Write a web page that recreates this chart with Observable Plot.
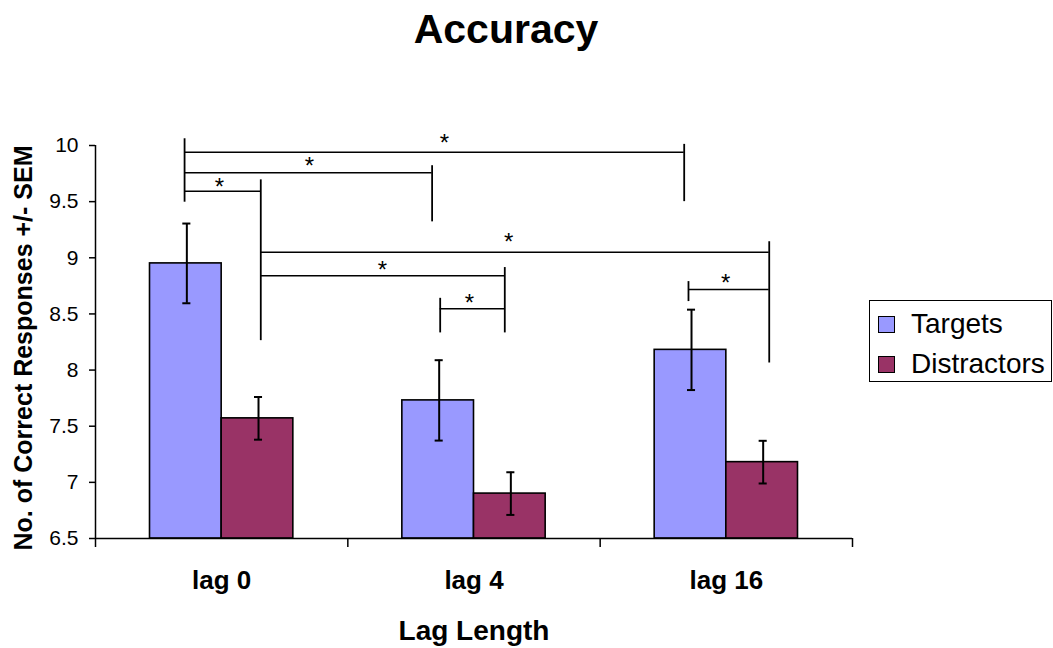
<!DOCTYPE html>
<html>
<head>
<meta charset="utf-8">
<script src="https://cdn.jsdelivr.net/npm/d3@7"></script>
<script src="https://cdn.jsdelivr.net/npm/@observablehq/plot@0.6"></script>
<style>
  body { margin: 0; background: #fff; font-family: "Liberation Sans", Arial, sans-serif; }
  #wrap { position: relative; width: 1053px; height: 648px; overflow: hidden; }
  #chart { position: absolute; left: 0; top: 0; }
  #title { position: absolute; left: 0; width: 1012px; top: 9px; text-align: center; font-weight: bold; font-size: 41px; line-height: 1; z-index: 2; }
  #legendBox { position: absolute; left: 869px; top: 300px; width: 183px; height: 82px; border: 1.5px solid #000; box-sizing: border-box; z-index: 2; }
  .sw { position: absolute; width: 17px; height: 17px; border: 1px solid #000; box-sizing: border-box; z-index: 3; }
  .lt { position: absolute; font-size: 28px; line-height: 1; z-index: 3; white-space: nowrap; }
</style>
</head>
<body>
<div id="wrap">
  <div id="title"></div>
  <div id="chart"></div>
  <div id="legendBox"></div>
  <div id="legend"></div>
</div>
<script>
// ---- data ----
const title = "Accuracy";
const categories = ["lag 0", "lag 4", "lag 16"];
const series = ["Targets", "Distractors"];
const colors = ["#9999FF", "#993366"];
const targets = [8.95, 7.73, 8.18];
const targetsSEM = [0.355, 0.358, 0.358];
const distractors = [7.57, 6.90, 7.18];
const distractorsSEM = [0.19, 0.19, 0.19];
const yTicks = [6.5, 7, 7.5, 8, 8.5, 9, 9.5, 10];
const yLabel = "No. of Correct Responses +/- SEM";
const xLabel = "Lag Length";

// significance brackets (x in category units, y in data units)
const bracketH = [
  {x1: 0.353, x2: 2.333, y: 9.94},
  {x1: 0.353, x2: 1.334, y: 9.757},
  {x1: 0.353, x2: 0.655, y: 9.593},
  {x1: 0.655, x2: 2.670, y: 9.049},
  {x1: 0.655, x2: 1.622, y: 8.841},
  {x1: 1.366, x2: 1.622, y: 8.547},
  {x1: 2.350, x2: 2.670, y: 8.717}
];
const bracketV = [
  {x: 0.353, y1: 10.06, y2: 9.495},
  {x: 2.333, y1: 10.01, y2: 9.50},
  {x: 1.334, y1: 9.82, y2: 9.32},
  {x: 0.655, y1: 9.694, y2: 8.262},
  {x: 2.670, y1: 9.143, y2: 8.063},
  {x: 1.622, y1: 8.913, y2: 8.331},
  {x: 1.366, y1: 8.639, y2: 8.331},
  {x: 2.350, y1: 8.788, y2: 8.610}
];
const stars = [
  {x: 1.383, y: 10.071},
  {x: 0.848, y: 9.866},
  {x: 0.491, y: 9.679},
  {x: 1.637, y: 9.189},
  {x: 1.137, y: 8.94},
  {x: 1.482, y: 8.645},
  {x: 2.497, y: 8.824}
];

// ---- build table ----
const values = [targets, distractors];
const sems = [targetsSEM, distractorsSEM];
const rows = [];
categories.forEach((c, i) => {
  series.forEach((s, j) => {
    const x1 = i + (j === 0 ? 0.216 : 0.5);
    const x2 = i + (j === 0 ? 0.5 : 0.784);
    rows.push({cat: c, series: s, value: values[j][i], sem: sems[j][i], x1, x2, xc: (x1 + x2) / 2 + 0.004, color: colors[j]});
  });
});
const caps = rows.flatMap(d => [{xc: d.xc, y: d.value - d.sem}, {xc: d.xc, y: d.value + d.sem}]);

document.getElementById("title").textContent = title;

const chart = Plot.plot({
  width: 1053,
  height: 648,
  marginLeft: 95,
  marginRight: 201,
  marginTop: 145,
  marginBottom: 110,
  style: {fontFamily: "'Liberation Sans', Arial, sans-serif", fontSize: "21px", background: "transparent", overflow: "visible"},
  x: {type: "linear", domain: [0, 3]},
  y: {domain: [6.5, 10]},
  marks: [
    Plot.rect(rows, {x1: "x1", x2: "x2", y1: 6.5, y2: "value", fill: "color", stroke: "black", strokeWidth: 1.6}),
    Plot.ruleX(rows, {x: "xc", y1: d => d.value - d.sem, y2: d => d.value + d.sem, stroke: "black", strokeWidth: 2}),
    Plot.ruleY(caps, {y: "y", x1: d => d.xc - 0.016, x2: d => d.xc + 0.016, stroke: "black", strokeWidth: 2}),
    Plot.ruleY(bracketH, {x1: "x1", x2: "x2", y: "y", stroke: "black", strokeWidth: 1.5}),
    Plot.ruleX(bracketV, {x: "x", y1: "y1", y2: "y2", stroke: "black", strokeWidth: 1.8}),
    Plot.text(stars, {x: "x", y: "y", text: () => "*", fontSize: 24, dy: 6}),
    Plot.axisY({ticks: yTicks, tickSize: 6, tickPadding: 11, fontSize: 21, label: null, strokeWidth: 1.5, tickFormat: d => String(d)}),
    Plot.axisX({ticks: [0, 1, 2, 3], tickSize: 9, tickFormat: () => "", label: null, strokeWidth: 1.5}),
    Plot.axisX({ticks: [0.5, 1.5, 2.5], tickSize: 0, tickPadding: 32, tickFormat: d => categories[Math.floor(d)], fontSize: 26, fontWeight: "bold", label: null}),
    Plot.ruleX([0], {stroke: "black", strokeWidth: 1.5}),
    Plot.ruleY([6.5], {stroke: "black", strokeWidth: 1.5}),
    Plot.text([xLabel], {frameAnchor: "bottom", lineAnchor: "middle", dy: 93, fontSize: 28, fontWeight: "bold"}),
    Plot.text([yLabel], {frameAnchor: "left", textAnchor: "middle", lineAnchor: "middle", rotate: -90, dx: -72, dy: 6, fontSize: 25, fontWeight: "bold"})
  ]
});
document.getElementById("chart").appendChild(chart);

// ---- legend ----
const legend = document.getElementById("legend");
series.forEach((s, j) => {
  const sw = document.createElement("div");
  sw.className = "sw";
  sw.style.left = "878px";
  sw.style.top = (316 + j * 40) + "px";
  sw.style.background = colors[j];
  legend.appendChild(sw);
  const t = document.createElement("div");
  t.className = "lt";
  t.style.left = "911px";
  t.style.top = (310 + j * 40) + "px";
  t.textContent = s;
  legend.appendChild(t);
});
</script>
</body>
</html>
